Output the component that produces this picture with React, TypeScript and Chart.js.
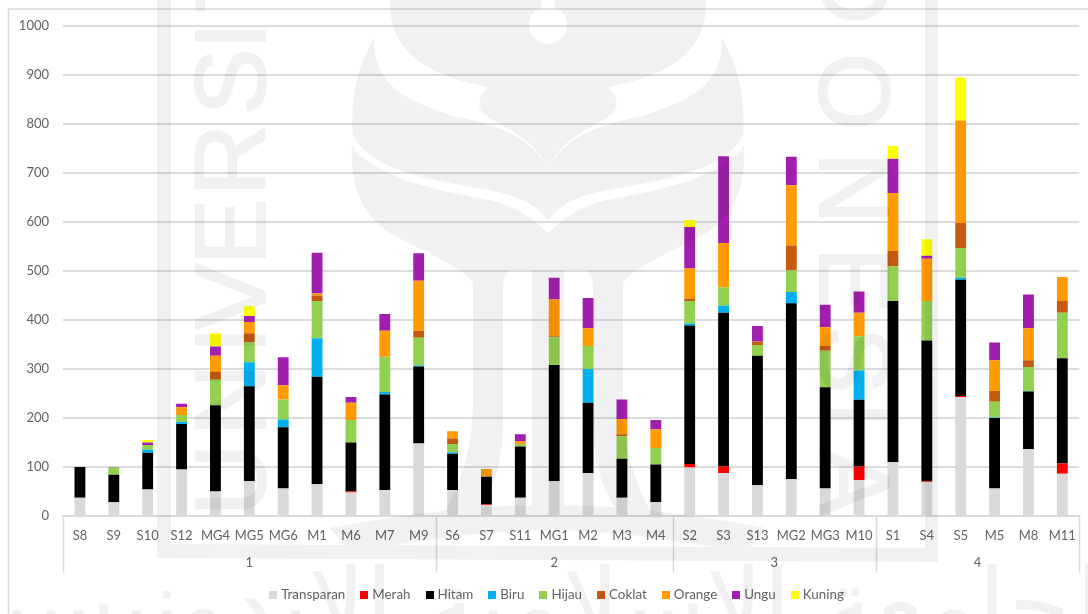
import React, { useEffect, useRef } from "react";
import { Chart, registerables } from "chart.js";

Chart.register(...registerables);

const categories = ["S8","S9","S10","S12","MG4","MG5","MG6","M1","M6","M7","M9","S6","S7","S11","MG1","M2","M3","M4","S2","S3","S13","MG2","MG3","M10","S1","S4","S5","M5","M8","M11"];
const groupNames = ["1", "2", "3", "4"];
const groupSizes = [11, 7, 6, 6];

const transparan = [37,28,54,95,50,71,56,65,48,53,148,53,22,37,71,87,37,28,99,88,63,75,56,73,110,69,243,56,136,86];
const merah = [0,0,0,0,0,0,0,0,2,0,0,0,2,0,0,0,0,0,7,13,0,0,0,28,0,2,2,0,0,21];
const hitam = [63,56,75,93,176,194,125,219,100,195,157,74,56,105,237,144,80,77,283,314,264,359,207,136,329,287,237,144,118,215];
const biru = [0,0,6,4,0,49,16,79,0,5,2,3,0,0,0,69,0,0,4,14,0,23,0,60,0,0,4,1,1,0];
const hijau = [0,15,10,14,52,40,41,76,46,72,57,17,0,5,57,47,46,34,46,38,22,44,74,70,70,81,61,32,49,93];
const coklat = [0,0,0,0,16,19,0,11,0,0,14,11,0,0,2,0,4,0,5,0,7,51,10,0,32,0,51,22,14,24];
const orange = [0,0,0,16,33,23,29,4,35,53,102,15,16,6,75,36,31,38,61,90,0,123,38,48,118,86,209,63,65,49];
const ungu = [0,1,5,7,19,12,57,83,12,34,56,0,0,14,44,62,40,19,85,177,32,58,46,43,70,6,0,36,69,0];
const kuning = [0,0,5,0,27,20,0,0,0,0,0,0,0,0,0,0,0,0,14,0,0,0,0,0,26,34,88,0,0,0];

const seriesList = [
  { label: "Transparan", data: transparan, color: "#d9d9d9" },
  { label: "Merah", data: merah, color: "#ff0000" },
  { label: "Hitam", data: hitam, color: "#000000" },
  { label: "Biru", data: biru, color: "#00b0f0" },
  { label: "Hijau", data: hijau, color: "#92d050" },
  { label: "Coklat", data: coklat, color: "#c55a11" },
  { label: "Orange", data: orange, color: "#ff9a00" },
  { label: "Ungu", data: ungu, color: "#a01fae" },
  { label: "Kuning", data: kuning, color: "#ffff00" },
];

const FONT = "Lato";
const TEXT = "#636363";
const LINE = "#d9d9d9";
const SHADE = "#f1f1f1";

// Letters of the printed seal, as [letter, position along the column].
const sealLeft: [string, number][] = [["U",480],["N",400],["I",340],["V",297],["E",232],["R",160],["S",82],["I",36],["T",-18]];
const sealRight: [string, number][] = [["D",-12],["O",92],["N",188],["E",280],["S",360],["I",415],["A",482]];

function sealHalves(): Path2D {
  const half = new Path2D();
  // crown
  half.moveTo(390, 0);
  half.bezierCurveTo(388, 50, 425, 75, 488, 87);
  half.bezierCurveTo(478, 96, 476, 110, 485, 114);
  half.bezierCurveTo(500, 128, 535, 135, 548, 170);
  half.lineTo(548, 44);
  half.arc(548, 25, 19, Math.PI / 2, Math.atan2(-17.7, -7) + Math.PI * 2, false);
  half.lineTo(541, 0);
  half.closePath();
  // wing
  half.moveTo(374, 38);
  half.bezierCurveTo(374, 80, 395, 98, 457, 117);
  half.bezierCurveTo(500, 125, 535, 140, 548, 170);
  half.lineTo(548, 220);
  half.bezierCurveTo(530, 198, 510, 195, 490, 190);
  half.bezierCurveTo(430, 180, 370, 170, 353, 135);
  half.bezierCurveTo(350, 100, 358, 65, 374, 38);
  half.closePath();
  // body and outer pillar
  half.moveTo(352, 145);
  half.bezierCurveTo(370, 175, 430, 190, 490, 200);
  half.bezierCurveTo(520, 208, 535, 220, 548, 233);
  half.lineTo(548, 270);
  half.lineTo(512, 270);
  half.bezierCurveTo(505, 272, 503, 280, 503, 290);
  half.lineTo(503, 420);
  half.bezierCurveTo(503, 470, 490, 500, 470, 520);
  half.lineTo(440, 520);
  half.bezierCurveTo(465, 480, 473, 440, 473, 400);
  half.lineTo(473, 283);
  half.bezierCurveTo(465, 268, 420, 250, 390, 233);
  half.bezierCurveTo(360, 212, 350, 185, 352, 145);
  half.closePath();
  // centre pillar
  half.rect(532, 270, 16, 250);
  // foot of the seal
  half.moveTo(330, 528);
  half.bezierCurveTo(400, 515, 470, 505, 548, 505);
  half.lineTo(548, 530);
  half.bezierCurveTo(470, 530, 400, 545, 350, 552);
  half.closePath();
  const whole = new Path2D();
  whole.addPath(half);
  whole.addPath(half, new DOMMatrix([-1, 0, 0, 1, 1096, 0]));
  return whole;
}

const printedSeal = {
  id: "printedSeal",
  afterDraw(chart: any) {
    const { ctx, width, height } = chart;
    const layer = document.createElement("canvas");
    layer.width = width;
    layer.height = height;
    const g = layer.getContext("2d") as CanvasRenderingContext2D;
    g.fillStyle = "#ffffff";
    g.fillRect(0, 0, width, height);
    g.fillStyle = SHADE;
    g.strokeStyle = SHADE;
    g.fill(sealHalves());
    // frame of the seal
    g.beginPath();
    g.moveTo(157, 0); g.lineTo(171, 0); g.lineTo(171, 544); g.lineTo(925, 548); g.lineTo(925, 0);
    g.lineTo(938, 0); g.lineTo(938, 562); g.lineTo(157, 558);
    g.closePath();
    g.fill();
    g.font = '100px "Liberation Sans"';
    g.textAlign = "center";
    g.textBaseline = "alphabetic";
    g.lineWidth = 2;
    g.lineJoin = "round";
    sealLeft.forEach(([ch, pos]) => {
      g.save();
      g.translate(265, pos);
      g.rotate(-Math.PI / 2);
      g.fillText(ch, 0, 0);
      g.strokeText(ch, 0, 0);
      g.restore();
    });
    sealRight.forEach(([ch, pos]) => {
      g.save();
      g.translate(820, pos);
      g.rotate(Math.PI / 2);
      g.fillText(ch, 0, 0);
      g.strokeText(ch, 0, 0);
      g.restore();
    });
    g.font = '100px "DejaVu Sans"';
    g.direction = "rtl";
    g.fillText("الجامعة الإسلامية الإندونيسية", 540, 640);
    ctx.save();
    ctx.globalCompositeOperation = "multiply";
    ctx.drawImage(layer, 0, 0);
    ctx.restore();
  },
};

const chartFrame = {
  id: "chartFrame",
  beforeDraw(chart: any) {
    const { ctx, width, height } = chart;
    ctx.save();
    ctx.strokeStyle = LINE;
    ctx.lineWidth = 1.5;
    ctx.beginPath();
    ctx.moveTo(8.5, height);
    ctx.lineTo(8.5, 9);
    ctx.lineTo(width, 9);
    ctx.stroke();
    ctx.restore();
  },
};

// Second level of the category axis: separators and group names below the tick labels.
const groupAxis = {
  id: "groupAxis",
  afterDraw(chart: any) {
    const { ctx, scales } = chart;
    const x = scales.x;
    const step = x.getPixelForTick(1) - x.getPixelForTick(0);
    const top = x.top;
    const bottom = top + 56.5;
    ctx.save();
    ctx.strokeStyle = LINE;
    ctx.lineWidth = 1.5;
    ctx.fillStyle = TEXT;
    ctx.font = `13px ${FONT}`;
    ctx.textAlign = "center";
    ctx.textBaseline = "middle";
    let index = 0;
    const edge = (px: number) => {
      ctx.beginPath();
      ctx.moveTo(Math.round(px) + 0.5, top);
      ctx.lineTo(Math.round(px) + 0.5, bottom);
      ctx.stroke();
    };
    edge(x.getPixelForTick(0) - step / 2);
    groupSizes.forEach((size, g) => {
      const start = x.getPixelForTick(index) - step / 2;
      const end = start + size * step;
      edge(end);
      ctx.fillText(groupNames[g], (start + end) / 2, top + 47);
      index += size;
    });
    ctx.restore();
  },
};

// Legend row below the axis: small square swatches tight against their labels.
const swatchLegend = {
  id: "swatchLegend",
  afterDraw(chart: any) {
    const { ctx } = chart;
    const swatch = 8;
    const gap = 4;
    const spacing = 15;
    const centre = 556.5;
    const midY = 595;
    ctx.save();
    ctx.font = `13.4px ${FONT}`;
    ctx.textBaseline = "middle";
    ctx.textAlign = "left";
    const items = chart.data.datasets.map((d: any) => ({
      text: d.label,
      color: d.backgroundColor,
      width: ctx.measureText(d.label).width,
    }));
    const total = items.reduce((sum: number, it: any) => sum + swatch + gap + it.width, 0) + spacing * (items.length - 1);
    let x = centre - total / 2;
    items.forEach((it: any) => {
      ctx.fillStyle = it.color;
      ctx.fillRect(Math.round(x), midY - 4, swatch, swatch);
      ctx.fillStyle = TEXT;
      ctx.fillText(it.text, x + swatch + gap, midY);
      x += swatch + gap + it.width + spacing;
    });
    ctx.restore();
  },
};

export default function App() {
  const ref = useRef<HTMLCanvasElement>(null);
  useEffect(() => {
    const chart = new Chart(ref.current as HTMLCanvasElement, {
      type: "bar",
      data: {
        labels: categories,
        datasets: seriesList.map((s) => ({
          label: s.label,
          data: s.data,
          backgroundColor: s.color,
          borderWidth: 0,
          categoryPercentage: 1,
          barPercentage: 0.32,
        })),
      },
      plugins: [chartFrame, groupAxis, swatchLegend, printedSeal],
      options: {
        responsive: false,
        animation: false,
        layout: { padding: { top: 26, right: 6, left: 0, bottom: 40 } },
        plugins: {
          tooltip: { enabled: false },
          legend: { display: false },
        },
        scales: {
          x: {
            stacked: true,
            afterFit: (s: any) => { s.height = 58; },
            grid: { display: false, drawTicks: false },
            border: { color: LINE, width: 1.5 },
            ticks: {
              autoSkip: false,
              maxRotation: 0,
              padding: 12,
              color: TEXT,
              font: { family: FONT, size: 13 },
            },
          },
          y: {
            stacked: true,
            min: 0,
            max: 1000,
            afterFit: (s: any) => { s.width = 63; },
            grid: { color: "#dcdcdc", lineWidth: 2, drawTicks: false },
            border: { display: false },
            ticks: {
              stepSize: 100,
              padding: 14,
              color: TEXT,
              font: { family: FONT, size: 13 },
              format: { useGrouping: false },
            },
          },
        },
      },
    } as any);
    return () => chart.destroy();
  }, []);
  return (
    <div style={{ position: "absolute", left: 0, top: 0, width: 1088, height: 614, background: "#ffffff" }}>
      <canvas ref={ref} width={1088} height={614} style={{ display: "block" }} />
    </div>
  );
}
